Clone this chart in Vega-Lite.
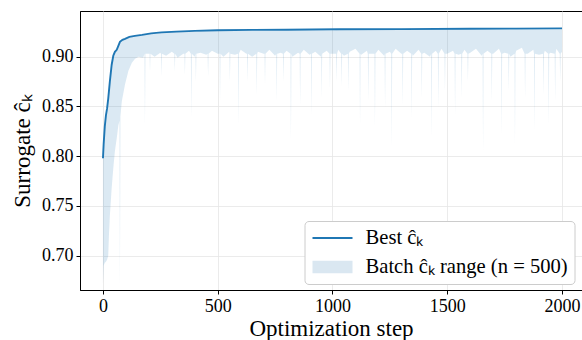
{
  "$schema": "https://vega.github.io/schema/vega-lite/v6.json",
  "width": 502,
  "height": 279,
  "autosize": {"type": "none"},
  "padding": {"left": 80, "top": 11, "right": 0, "bottom": 50},
  "background": "white",
  "config": {
    "view": {"stroke": "black", "strokeWidth": 1},
    "axis": {
      "labelFont": "Liberation Serif", "labelFontSize": 18, "labelColor": "black",
      "titleFont": "Liberation Serif", "titleFontSize": 23, "titleFontWeight": "normal", "titleColor": "black",
      "domainColor": "black", "tickColor": "black", "tickSize": 4, "labelPadding": 3,
      "gridColor": "#e6e6e6", "gridWidth": 0.8
    },
    "legend": {
      "title": null,
      "orient": "none",
      "legendX": 224.5,
      "legendY": 210,
      "padding": 6,
      "fillColor": "white",
      "strokeColor": "#cccccc",
      "cornerRadius": 4,
      "symbolSize": 400,
      "symbolStrokeWidth": 2,
      "symbolOpacity": 1,
      "symbolOffset": 11,
      "labelOffset": 22,
      "labelLimit": 400,
      "rowPadding": 7,
      "labelFont": "Liberation Serif",
      "labelFontSize": 20.6,
      "labelColor": "black"
    }
  },
  "datasets": {
    "legendrows": [],
    "best": [
      {"s": 0, "v": 0.798}, {"s": 3, "v": 0.812}, {"s": 8, "v": 0.830}, {"s": 13, "v": 0.841},
      {"s": 18, "v": 0.848}, {"s": 23, "v": 0.858}, {"s": 30, "v": 0.875}, {"s": 38, "v": 0.892},
      {"s": 45, "v": 0.901}, {"s": 52, "v": 0.905}, {"s": 60, "v": 0.907}, {"s": 67, "v": 0.911},
      {"s": 74, "v": 0.915}, {"s": 85, "v": 0.917}, {"s": 96, "v": 0.918}, {"s": 115, "v": 0.920},
      {"s": 139, "v": 0.921}, {"s": 170, "v": 0.922}, {"s": 210, "v": 0.9235}, {"s": 255, "v": 0.9245},
      {"s": 320, "v": 0.9253}, {"s": 400, "v": 0.926}, {"s": 500, "v": 0.9266}, {"s": 650, "v": 0.927},
      {"s": 800, "v": 0.9272}, {"s": 1030, "v": 0.9276}, {"s": 1300, "v": 0.9278}, {"s": 1600, "v": 0.9281},
      {"s": 1800, "v": 0.9283}, {"s": 2000, "v": 0.9285}
    ],
    "batch": [
      {"s": 0, "lo": 0.672, "hi": 0.798}, {"s": 3, "lo": 0.690, "hi": 0.812}, {"s": 8, "lo": 0.693, "hi": 0.830},
      {"s": 13, "lo": 0.694, "hi": 0.841}, {"s": 18, "lo": 0.696, "hi": 0.848}, {"s": 23, "lo": 0.700, "hi": 0.858},
      {"s": 26, "lo": 0.720, "hi": 0.864}, {"s": 30, "lo": 0.740, "hi": 0.875}, {"s": 38, "lo": 0.768, "hi": 0.892},
      {"s": 45, "lo": 0.788, "hi": 0.901}, {"s": 52, "lo": 0.805, "hi": 0.905}, {"s": 60, "lo": 0.818, "hi": 0.907},
      {"s": 67, "lo": 0.831, "hi": 0.911}, {"s": 72, "lo": 0.836, "hi": 0.914}, {"s": 74, "lo": 0.667, "hi": 0.915},
      {"s": 76, "lo": 0.840, "hi": 0.915}, {"s": 82, "lo": 0.855, "hi": 0.916}, {"s": 96, "lo": 0.872, "hi": 0.918},
      {"s": 111, "lo": 0.886, "hi": 0.920}, {"s": 126, "lo": 0.894, "hi": 0.920}, {"s": 140, "lo": 0.898, "hi": 0.921},
      {"s": 155, "lo": 0.900, "hi": 0.921},
      {"s": 175, "lo": 0.899, "hi": 0.922}, {"s": 200, "lo": 0.903, "hi": 0.923}, {"s": 225, "lo": 0.900, "hi": 0.923},
      {"s": 250, "lo": 0.904, "hi": 0.924}, {"s": 275, "lo": 0.901, "hi": 0.925}, {"s": 300, "lo": 0.905, "hi": 0.925},
      {"s": 325, "lo": 0.899, "hi": 0.925}, {"s": 350, "lo": 0.903, "hi": 0.925}, {"s": 375, "lo": 0.906, "hi": 0.925},
      {"s": 400, "lo": 0.900, "hi": 0.925}, {"s": 425, "lo": 0.904, "hi": 0.926}, {"s": 450, "lo": 0.902, "hi": 0.926},
      {"s": 475, "lo": 0.906, "hi": 0.926}, {"s": 500, "lo": 0.903, "hi": 0.926}, {"s": 525, "lo": 0.900, "hi": 0.926},
      {"s": 550, "lo": 0.905, "hi": 0.926}, {"s": 575, "lo": 0.902, "hi": 0.926}, {"s": 600, "lo": 0.907, "hi": 0.926},
      {"s": 625, "lo": 0.903, "hi": 0.9265}, {"s": 650, "lo": 0.900, "hi": 0.9265}, {"s": 675, "lo": 0.905, "hi": 0.9265},
      {"s": 700, "lo": 0.903, "hi": 0.9265}, {"s": 725, "lo": 0.907, "hi": 0.9265}, {"s": 750, "lo": 0.901, "hi": 0.9265},
      {"s": 775, "lo": 0.904, "hi": 0.9265}, {"s": 800, "lo": 0.906, "hi": 0.9265}, {"s": 825, "lo": 0.900, "hi": 0.9265},
      {"s": 850, "lo": 0.904, "hi": 0.9265}, {"s": 875, "lo": 0.907, "hi": 0.9265}, {"s": 900, "lo": 0.902, "hi": 0.9265},
      {"s": 925, "lo": 0.905, "hi": 0.9265}, {"s": 950, "lo": 0.900, "hi": 0.9265}, {"s": 975, "lo": 0.906, "hi": 0.9265},
      {"s": 1000, "lo": 0.903, "hi": 0.9265}, {"s": 1025, "lo": 0.907, "hi": 0.927}, {"s": 1050, "lo": 0.901, "hi": 0.927},
      {"s": 1075, "lo": 0.905, "hi": 0.927}, {"s": 1100, "lo": 0.908, "hi": 0.927}, {"s": 1125, "lo": 0.902, "hi": 0.927},
      {"s": 1150, "lo": 0.906, "hi": 0.927}, {"s": 1175, "lo": 0.903, "hi": 0.927}, {"s": 1200, "lo": 0.907, "hi": 0.927},
      {"s": 1225, "lo": 0.901, "hi": 0.927}, {"s": 1250, "lo": 0.905, "hi": 0.927}, {"s": 1275, "lo": 0.908, "hi": 0.927},
      {"s": 1300, "lo": 0.903, "hi": 0.927}, {"s": 1325, "lo": 0.906, "hi": 0.927}, {"s": 1350, "lo": 0.901, "hi": 0.927},
      {"s": 1375, "lo": 0.907, "hi": 0.927}, {"s": 1400, "lo": 0.904, "hi": 0.927}, {"s": 1425, "lo": 0.900, "hi": 0.927},
      {"s": 1450, "lo": 0.906, "hi": 0.927}, {"s": 1475, "lo": 0.908, "hi": 0.927}, {"s": 1500, "lo": 0.903, "hi": 0.927},
      {"s": 1525, "lo": 0.906, "hi": 0.9275}, {"s": 1550, "lo": 0.902, "hi": 0.9275}, {"s": 1575, "lo": 0.907, "hi": 0.9275},
      {"s": 1600, "lo": 0.904, "hi": 0.9275}, {"s": 1625, "lo": 0.908, "hi": 0.9275}, {"s": 1650, "lo": 0.901, "hi": 0.9275},
      {"s": 1675, "lo": 0.906, "hi": 0.9275}, {"s": 1700, "lo": 0.903, "hi": 0.9275}, {"s": 1725, "lo": 0.908, "hi": 0.9275},
      {"s": 1750, "lo": 0.904, "hi": 0.9275}, {"s": 1775, "lo": 0.900, "hi": 0.9275}, {"s": 1800, "lo": 0.906, "hi": 0.9275},
      {"s": 1825, "lo": 0.909, "hi": 0.9275}, {"s": 1850, "lo": 0.903, "hi": 0.9275}, {"s": 1875, "lo": 0.907, "hi": 0.9275},
      {"s": 1900, "lo": 0.902, "hi": 0.9275}, {"s": 1925, "lo": 0.906, "hi": 0.9275}, {"s": 1950, "lo": 0.904, "hi": 0.9275},
      {"s": 1975, "lo": 0.908, "hi": 0.9275}, {"s": 2000, "lo": 0.905, "hi": 0.9275},
      {"s": 181, "lo": 0.903, "hi": 0.922}, {"s": 183, "lo": 0.831, "hi": 0.922}, {"s": 185, "lo": 0.903, "hi": 0.922},
      {"s": 203, "lo": 0.903, "hi": 0.923}, {"s": 205, "lo": 0.885, "hi": 0.923}, {"s": 207, "lo": 0.903, "hi": 0.923},
      {"s": 253, "lo": 0.903, "hi": 0.924}, {"s": 255, "lo": 0.880, "hi": 0.924}, {"s": 257, "lo": 0.903, "hi": 0.924},
      {"s": 311, "lo": 0.903, "hi": 0.925}, {"s": 313, "lo": 0.885, "hi": 0.925}, {"s": 315, "lo": 0.903, "hi": 0.925},
      {"s": 355, "lo": 0.903, "hi": 0.925}, {"s": 357, "lo": 0.882, "hi": 0.925}, {"s": 359, "lo": 0.903, "hi": 0.925},
      {"s": 383, "lo": 0.903, "hi": 0.925}, {"s": 385, "lo": 0.838, "hi": 0.925}, {"s": 387, "lo": 0.903, "hi": 0.925},
      {"s": 403, "lo": 0.903, "hi": 0.925}, {"s": 405, "lo": 0.875, "hi": 0.925}, {"s": 407, "lo": 0.903, "hi": 0.925},
      {"s": 456, "lo": 0.903, "hi": 0.926}, {"s": 458, "lo": 0.880, "hi": 0.926}, {"s": 460, "lo": 0.903, "hi": 0.926},
      {"s": 508, "lo": 0.903, "hi": 0.926}, {"s": 510, "lo": 0.855, "hi": 0.926}, {"s": 512, "lo": 0.903, "hi": 0.926},
      {"s": 551, "lo": 0.903, "hi": 0.926}, {"s": 553, "lo": 0.875, "hi": 0.926}, {"s": 555, "lo": 0.903, "hi": 0.926},
      {"s": 588, "lo": 0.903, "hi": 0.926}, {"s": 590, "lo": 0.831, "hi": 0.926}, {"s": 592, "lo": 0.903, "hi": 0.926},
      {"s": 628, "lo": 0.903, "hi": 0.9265}, {"s": 630, "lo": 0.875, "hi": 0.9265}, {"s": 632, "lo": 0.903, "hi": 0.9265},
      {"s": 668, "lo": 0.903, "hi": 0.9265}, {"s": 670, "lo": 0.861, "hi": 0.9265}, {"s": 672, "lo": 0.903, "hi": 0.9265},
      {"s": 704, "lo": 0.903, "hi": 0.9265}, {"s": 706, "lo": 0.872, "hi": 0.9265}, {"s": 708, "lo": 0.903, "hi": 0.9265},
      {"s": 755, "lo": 0.903, "hi": 0.9265}, {"s": 757, "lo": 0.855, "hi": 0.9265}, {"s": 759, "lo": 0.903, "hi": 0.9265},
      {"s": 784, "lo": 0.903, "hi": 0.9265}, {"s": 786, "lo": 0.875, "hi": 0.9265}, {"s": 788, "lo": 0.903, "hi": 0.9265},
      {"s": 817, "lo": 0.903, "hi": 0.9265}, {"s": 819, "lo": 0.815, "hi": 0.9265}, {"s": 821, "lo": 0.903, "hi": 0.9265},
      {"s": 857, "lo": 0.903, "hi": 0.9265}, {"s": 859, "lo": 0.851, "hi": 0.9265}, {"s": 861, "lo": 0.903, "hi": 0.9265},
      {"s": 906, "lo": 0.903, "hi": 0.9265}, {"s": 908, "lo": 0.841, "hi": 0.9265}, {"s": 910, "lo": 0.903, "hi": 0.9265},
      {"s": 951, "lo": 0.903, "hi": 0.9265}, {"s": 953, "lo": 0.858, "hi": 0.9265}, {"s": 955, "lo": 0.903, "hi": 0.9265},
      {"s": 987, "lo": 0.903, "hi": 0.9265}, {"s": 989, "lo": 0.868, "hi": 0.9265}, {"s": 991, "lo": 0.903, "hi": 0.9265},
      {"s": 1016, "lo": 0.903, "hi": 0.927}, {"s": 1018, "lo": 0.875, "hi": 0.927}, {"s": 1020, "lo": 0.903, "hi": 0.927},
      {"s": 1038, "lo": 0.903, "hi": 0.927}, {"s": 1040, "lo": 0.870, "hi": 0.927}, {"s": 1042, "lo": 0.903, "hi": 0.927},
      {"s": 1067, "lo": 0.903, "hi": 0.927}, {"s": 1069, "lo": 0.865, "hi": 0.927}, {"s": 1071, "lo": 0.903, "hi": 0.927},
      {"s": 1118, "lo": 0.903, "hi": 0.927}, {"s": 1120, "lo": 0.831, "hi": 0.927}, {"s": 1122, "lo": 0.903, "hi": 0.927},
      {"s": 1154, "lo": 0.903, "hi": 0.927}, {"s": 1156, "lo": 0.855, "hi": 0.927}, {"s": 1158, "lo": 0.903, "hi": 0.927},
      {"s": 1183, "lo": 0.903, "hi": 0.927}, {"s": 1185, "lo": 0.828, "hi": 0.927}, {"s": 1187, "lo": 0.903, "hi": 0.927},
      {"s": 1227, "lo": 0.903, "hi": 0.927}, {"s": 1229, "lo": 0.848, "hi": 0.927}, {"s": 1231, "lo": 0.903, "hi": 0.927},
      {"s": 1256, "lo": 0.903, "hi": 0.927}, {"s": 1258, "lo": 0.808, "hi": 0.927}, {"s": 1260, "lo": 0.903, "hi": 0.927},
      {"s": 1304, "lo": 0.903, "hi": 0.927}, {"s": 1306, "lo": 0.851, "hi": 0.927}, {"s": 1308, "lo": 0.903, "hi": 0.927},
      {"s": 1343, "lo": 0.903, "hi": 0.927}, {"s": 1345, "lo": 0.838, "hi": 0.927}, {"s": 1347, "lo": 0.903, "hi": 0.927},
      {"s": 1387, "lo": 0.903, "hi": 0.927}, {"s": 1389, "lo": 0.858, "hi": 0.927}, {"s": 1391, "lo": 0.903, "hi": 0.927},
      {"s": 1430, "lo": 0.903, "hi": 0.927}, {"s": 1432, "lo": 0.818, "hi": 0.927}, {"s": 1434, "lo": 0.903, "hi": 0.927},
      {"s": 1459, "lo": 0.903, "hi": 0.927}, {"s": 1461, "lo": 0.848, "hi": 0.927}, {"s": 1463, "lo": 0.903, "hi": 0.927},
      {"s": 1488, "lo": 0.903, "hi": 0.927}, {"s": 1490, "lo": 0.865, "hi": 0.927}, {"s": 1492, "lo": 0.903, "hi": 0.927},
      {"s": 1532, "lo": 0.903, "hi": 0.9275}, {"s": 1534, "lo": 0.841, "hi": 0.9275}, {"s": 1536, "lo": 0.903, "hi": 0.9275},
      {"s": 1561, "lo": 0.903, "hi": 0.9275}, {"s": 1563, "lo": 0.858, "hi": 0.9275}, {"s": 1565, "lo": 0.903, "hi": 0.9275},
      {"s": 1588, "lo": 0.903, "hi": 0.9275}, {"s": 1590, "lo": 0.875, "hi": 0.9275}, {"s": 1592, "lo": 0.903, "hi": 0.9275},
      {"s": 1654, "lo": 0.903, "hi": 0.9275}, {"s": 1656, "lo": 0.804, "hi": 0.9275}, {"s": 1658, "lo": 0.903, "hi": 0.9275},
      {"s": 1692, "lo": 0.903, "hi": 0.9275}, {"s": 1694, "lo": 0.855, "hi": 0.9275}, {"s": 1696, "lo": 0.903, "hi": 0.9275},
      {"s": 1735, "lo": 0.903, "hi": 0.9275}, {"s": 1737, "lo": 0.821, "hi": 0.9275}, {"s": 1739, "lo": 0.903, "hi": 0.9275},
      {"s": 1766, "lo": 0.903, "hi": 0.9275}, {"s": 1768, "lo": 0.865, "hi": 0.9275}, {"s": 1770, "lo": 0.903, "hi": 0.9275},
      {"s": 1793, "lo": 0.903, "hi": 0.9275}, {"s": 1795, "lo": 0.811, "hi": 0.9275}, {"s": 1797, "lo": 0.903, "hi": 0.9275},
      {"s": 1837, "lo": 0.903, "hi": 0.9275}, {"s": 1839, "lo": 0.858, "hi": 0.9275}, {"s": 1841, "lo": 0.903, "hi": 0.9275},
      {"s": 1878, "lo": 0.903, "hi": 0.9275}, {"s": 1880, "lo": 0.825, "hi": 0.9275}, {"s": 1882, "lo": 0.903, "hi": 0.9275},
      {"s": 1917, "lo": 0.903, "hi": 0.9275}, {"s": 1919, "lo": 0.861, "hi": 0.9275}, {"s": 1921, "lo": 0.903, "hi": 0.9275},
      {"s": 1940, "lo": 0.903, "hi": 0.9275}, {"s": 1942, "lo": 0.831, "hi": 0.9275}, {"s": 1944, "lo": 0.903, "hi": 0.9275},
      {"s": 1968, "lo": 0.903, "hi": 0.9275}, {"s": 1970, "lo": 0.855, "hi": 0.9275}, {"s": 1972, "lo": 0.903, "hi": 0.9275},
      {"s": 1990, "lo": 0.903, "hi": 0.9275}, {"s": 1992, "lo": 0.875, "hi": 0.9275}, {"s": 1994, "lo": 0.903, "hi": 0.9275}
    ]
  },
  "layer": [
    {
      "data": {"name": "batch"},
      "mark": {"type": "area", "opacity": 0.16, "clip": true, "interpolate": "linear", "color": "#1f77b4"},
      "encoding": {
        "x": {
          "field": "s", "type": "quantitative",
          "scale": {"domain": [-100, 2087], "nice": false, "zero": false},
          "axis": {"title": "Optimization step", "values": [0, 500, 1000, 1500, 2000], "format": "d", "titlePadding": 2, "grid": true}
        },
        "y": {
          "field": "lo", "type": "quantitative",
          "scale": {"domain": [0.6655, 0.946], "nice": false, "zero": false},
          "axis": {"title": "Surrogate ĉₖ", "values": [0.70, 0.75, 0.80, 0.85, 0.90], "format": ".2f", "titlePadding": 7, "grid": true}
        },
        "y2": {"field": "hi"}
      }
    },
    {
      "data": {"name": "best"},
      "mark": {"type": "line", "strokeWidth": 1.9, "clip": true, "color": "#1f77b4"},
      "encoding": {
        "x": {"field": "s", "type": "quantitative"},
        "y": {"field": "v", "type": "quantitative"}
      }
    },
    {
      "data": {"name": "legendrows"},
      "mark": {"type": "point", "opacity": 1, "strokeWidth": 2},
      "encoding": {
        "x": {"field": "s", "type": "quantitative"},
        "y": {"field": "v", "type": "quantitative"},
        "shape": {
          "datum": "Best ĉₖ",
          "scale": {"domain": ["Best ĉₖ", "Batch ĉₖ range (n = 500)"], "range": ["M-2,0H2", "M-2,-0.63H2V0.63H-2Z"]}
        },
        "fill": {
          "datum": "Best ĉₖ",
          "scale": {"domain": ["Best ĉₖ", "Batch ĉₖ range (n = 500)"], "range": ["transparent", "#dae7f1"]}
        },
        "stroke": {
          "datum": "Best ĉₖ",
          "scale": {"domain": ["Best ĉₖ", "Batch ĉₖ range (n = 500)"], "range": ["#1f77b4", "transparent"]}
        }
      }
    }
  ]
}
